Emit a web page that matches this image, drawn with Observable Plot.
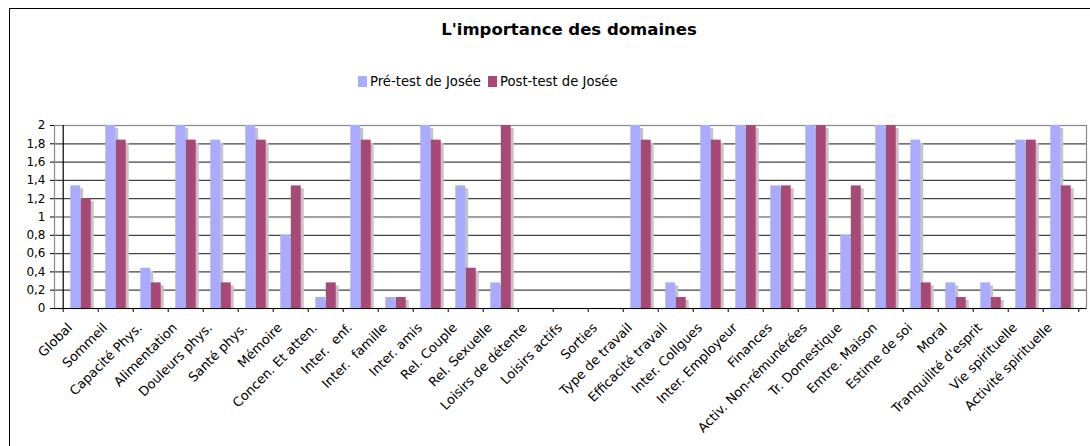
<!DOCTYPE html>
<html>
<head>
<meta charset="utf-8">
<script src="https://cdn.jsdelivr.net/npm/d3@7"></script>
<script src="https://cdn.jsdelivr.net/npm/@observablehq/plot@0.6"></script>
<style>
  html, body { margin: 0; padding: 0; background: #fff; overflow: hidden; width: 1090px; height: 446px; }
  body { position: relative; font-family: "DejaVu Sans", Verdana, sans-serif; }
  #frame { position: absolute; left: 9px; top: 8px; width: 1200px; height: 500px; border-left: 1px solid #000; border-top: 1px solid #000; }
  #title { position: absolute; left: 0; width: 1138px; top: 20px; text-align: center; font-weight: bold; font-size: 16.5px; color: #000; }
  #legend { position: absolute; left: 358px; top: 74px; font-size: 13.2px; color: #000; display: flex; align-items: center; white-space: nowrap; }
  #legend .sw { display: inline-block; width: 9px; height: 11px; margin-right: 3px; }
  #legend .item { display: flex; align-items: center; margin-right: 7px; }
  #chart { position: absolute; left: 0; top: 110px; }
  #chart svg text { white-space: pre; }
</style>
</head>
<body>
<div id="frame"></div>
<div id="title">L'importance des domaines</div>
<div id="legend"></div>
<div id="chart"></div>
<script>
const categories = [
  "Global", "Sommeil", "Capacité Phys.", "Alimentation", "Douleurs phys.", "Santé phys.",
  "Mémoire", "Concen. Et atten.", "Inter.  enf.", "Inter.  famille", "Inter. amis",
  "Rel. Couple", "Rel. Sexuelle", "Loisirs de détente", "Loisirs actifs", "Sorties",
  "Type de travail", "Efficacité travail", "Inter. Collgues", "Inter. Employeur", "Finances",
  "Activ. Non-rémunérées", "Tr. Domestique", "Emtre. Maison", "Estime de soi", "Moral",
  "Tranquilité d'esprit", "Vie spirituelle", "Activité spirituelle"
];
const preTest = [
  1.34, 2, 0.44, 2, 1.84, 2,
  0.8, 0.12, 2, 0.12, 2,
  1.34, 0.28, 0, 0, 0,
  2, 0.28, 2, 2, 1.34,
  2, 0.8, 2, 1.84, 0.28,
  0.28, 1.84, 2
];
const postTest = [
  1.2, 1.84, 0.28, 1.84, 0.28, 1.84,
  1.34, 0.28, 1.84, 0.12, 1.84,
  0.44, 2, 0, 0, 0,
  1.84, 0.12, 1.84, 2, 1.34,
  2, 1.34, 2, 0.28, 0.12,
  0.12, 1.84, 1.34
];
const seriesNames = ["Pré-test de Josée", "Post-test de Josée"];
const seriesColors = ["#AAABFE", "#A84877"];
const yTicks = [0, 0.2, 0.4, 0.6, 0.8, 1, 1.2, 1.4, 1.6, 1.8, 2];

const preData = categories.map((c, i) => ({cat: c, v: preTest[i]}));
const postData = categories.map((c, i) => ({cat: c, v: postTest[i]}));

// legend
const legend = document.getElementById("legend");
seriesNames.forEach((n, i) => {
  const it = document.createElement("span");
  it.className = "item";
  it.innerHTML = `<span class="sw" style="background:${seriesColors[i]}"></span>${n}`;
  legend.appendChild(it);
});

const W = 1090, H = 336, ML = 54, MR = 4;
const bw = (W - ML - MR) / categories.length;
const half = bw / 2;
const barW = 10.5;
const shadow = "#C4C4C4";

const chart = Plot.plot({
  width: W,
  height: H,
  marginLeft: ML,
  marginRight: MR,
  marginTop: 15,
  marginBottom: 138,
  style: {fontFamily: "DejaVu Sans, Verdana, sans-serif", fontSize: "12px", color: "#000", background: "transparent"},
  x: {type: "band", domain: categories, padding: 0, label: null},
  y: {domain: [0, 2], label: null},
  marks: [
    Plot.ruleY(yTicks.slice(1, -1), {stroke: "#444", strokeWidth: 1.2}),
    Plot.frame({stroke: "#888", strokeWidth: 1.2}),
    // pre-test shadow + bars
    Plot.barY(preData.filter(d => d.v > 0), {x: "cat", y: "v", fill: shadow, insetLeft: half - barW, insetRight: half, dx: 3, insetTop: 3}),
    Plot.barY(preData, {x: "cat", y: "v", fill: seriesColors[0], insetLeft: half - barW, insetRight: half}),
    // post-test shadow + bars
    Plot.barY(postData.filter(d => d.v > 0), {x: "cat", y: "v", fill: shadow, insetLeft: half, insetRight: half - barW, dx: 3, insetTop: 3}),
    Plot.barY(postData, {x: "cat", y: "v", fill: seriesColors[1], insetLeft: half, insetRight: half - barW}),
    // axis lines
    Plot.ruleY([0], {stroke: "#000", strokeWidth: 1.2}),
    Plot.ruleX([categories[0]], {x: d => d, dx: -half, y1: 0, y2: 2, stroke: "#000", strokeWidth: 1.2}),
    // x boundary ticks
    Plot.ruleX(categories, {x: d => d, dx: -half, y1: 0, y2: 0, insetBottom: -4, stroke: "#000"}),
    Plot.ruleX([categories[categories.length - 1]], {x: d => d, dx: half, y1: 0, y2: 0, insetBottom: -4, stroke: "#000"}),
    Plot.axisY({ticks: yTicks, tickSize: 4, tickPadding: 5, tickFormat: d => String(d).replace(".", ","), stroke: "#000", fontSize: 12}),
    Plot.axisX({tickSize: 0, tickPadding: 10, tickRotate: -45, fontSize: 13, dx: -11, dy: 7})
  ]
});
document.getElementById("chart").appendChild(chart);
</script>
</body>
</html>
